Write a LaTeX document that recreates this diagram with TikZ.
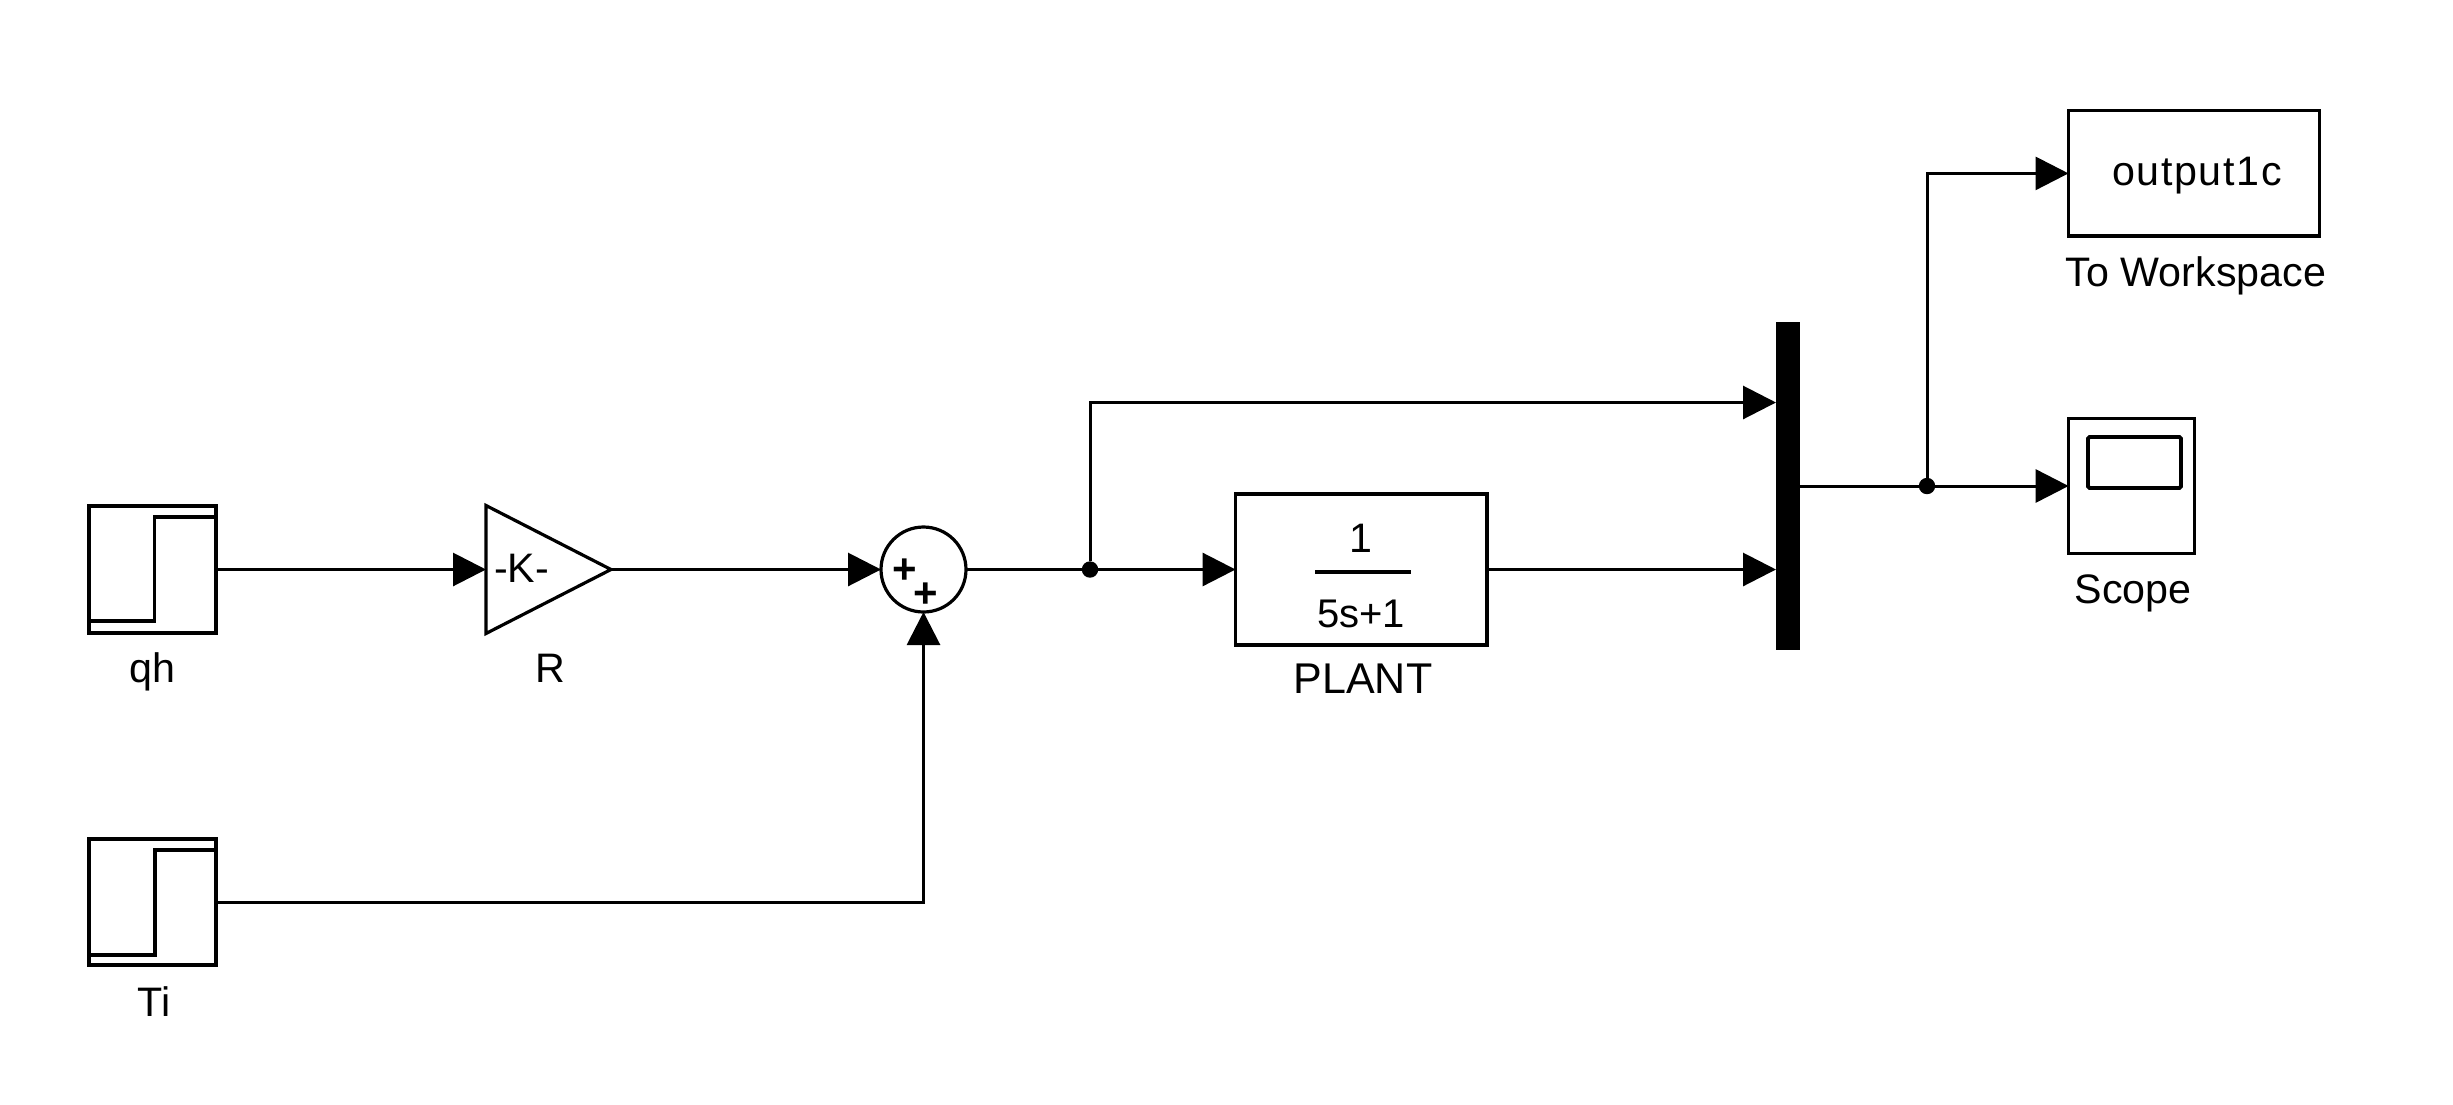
\documentclass[tikz,border=0pt]{standalone}
\usepackage{fontspec}
\setmainfont{Liberation Sans}
\usetikzlibrary{arrows.meta}
\tikzset{
  x=0.5pt,y=-0.5pt,
  blockbox/.style={draw=black,line width=1.6pt,fill=white,rectangle,inner sep=0pt,outer sep=0pt},
  wire/.style={draw=black,line width=1.5pt},
  arrowwire/.style={wire,-{Triangle[length=16.5pt,width=16.5pt]}},
  junction/.style={circle,fill=black,draw=none,minimum size=8.2pt,inner sep=0pt,outer sep=0pt},
  lab/.style={anchor=base,inner sep=0pt,outer sep=0pt,font=\fontsize{20.6}{24}\selectfont},
  iconline/.style={line width=1.9pt,line join=miter},
  sign/.style={inner sep=0pt,outer sep=0pt,font=\fontsize{21}{24}\selectfont\bfseries}
}
\begin{document}
\begin{tikzpicture}
\useasboundingbox[fill=white] (0,0) rectangle (2453,1104);

% blocks
\node[blockbox,minimum width=63.5pt,minimum height=63.5pt] (qh) at (152.5,569.5) {};
\node[blockbox,minimum width=63.5pt,minimum height=63pt] (ti) at (152.5,902) {};
\draw[line width=1.6pt,line join=miter,fill=white] (486,505.5) -- (611,569.5) -- (486,633.5) -- cycle;
\coordinate (rin) at (486,569.5);
\coordinate (rout) at (611,569.5);
\node[blockbox,circle,minimum size=42.5pt] (sum) at (923.5,569.5) {};
\node[blockbox,minimum width=125.7pt,minimum height=75.2pt,line width=1.9pt] (plant) at (1361.25,569.5) {};
\node[rectangle,fill=black,inner sep=0pt,outer sep=0pt,minimum width=12pt,minimum height=164pt] (mux) at (1788,486) {};
\coordinate (m1) at (1776,402.5);
\coordinate (m2) at (1776,569.5);
\node[blockbox,minimum width=125.5pt,minimum height=62.6pt] (wksp) at (2194,173.4) {};
\node[blockbox,minimum width=62.7pt,minimum height=67.2pt,line width=1.5pt] (scope) at (2131.3,486) {};
\node[rectangle,draw=black,line width=1.9pt,rounded corners=0.8pt,inner sep=0pt,minimum width=46.5pt,minimum height=25.5pt] (screen) at (2134.5,462.5) {};

% step icons
\draw[iconline] (qh.west |- 0,621) -- (154.5,621) -- (154.5,517) -- (qh.east |- 0,517);
\draw[iconline] (ti.west |- 0,955) -- (155,955) -- (155,850) -- (ti.east |- 0,850);

% junctions
\node[junction] (j1) at (1090,569.5) {};
\node[junction] (j2) at (1927,486) {};

% connectors
\draw[arrowwire] (qh.east) -- (rin);
\draw[arrowwire] (rout) -- (sum.west);
\draw[arrowwire] (ti.east) -| (sum.south);
\draw[wire] (sum.east) -- (j1);
\draw[arrowwire] (j1) -- (plant.west);
\draw[arrowwire] (j1) |- (m1);
\draw[arrowwire] (plant.east) -- (m2);
\draw[wire] (mux.east) -- (j2);
\draw[arrowwire] (j2) -- (scope.west);
\draw[arrowwire] (j2) |- (wksp.west);

% block contents
\node[lab] (ktext) at (521.5,582) {-K-};
\node[sign] (p1) at (905,571) {+};
\node[sign] (p2) at (926,595) {+};
\node[lab] (num) at (1360.5,552) {1};
\node[lab,font=\fontsize{20}{24}\selectfont] (den) at (1361,627) {5s+1};
\draw[line width=1.8pt] (1315,572) -- (1410.5,572);
\node[lab] (outtxt) at (2197,185) {\addfontfeature{LetterSpace=4}output1c};

% labels
\node[lab] (lqh) at (152.5,682) {qh};
\node[lab] (lr) at (550,682) {R};
\node[lab] (lti) at (154,1016) {Ti};
\node[lab,font=\fontsize{21.5}{24}\selectfont] (lplant) at (1363,693) {PLANT};
\node[lab] (lwk) at (2196,286) {To Workspace};
\node[lab] (lsc) at (2133,603) {Scope};
\end{tikzpicture}
\end{document}
